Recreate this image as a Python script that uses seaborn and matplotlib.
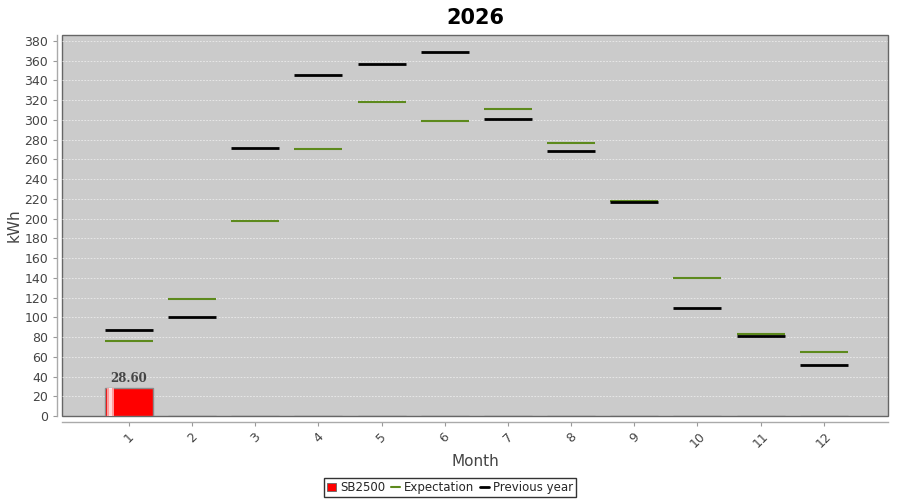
import numpy as np
import matplotlib
matplotlib.use("Agg")
import matplotlib.pyplot as plt
import seaborn as sns
from matplotlib.lines import Line2D
from matplotlib.patches import Patch

months = ["1", "2", "3", "4", "5", "6", "7", "8", "9", "10", "11", "12"]
sb2500 = [28.6, 0, 0, 0, 0, 0, 0, 0, 0, 0, 0, 0]
expectation = [76, 119, 198, 270, 318, 299, 311, 277, 218, 140, 83, 65]
previous_year = [87, 100, 272, 345, 357, 369, 301, 268, 217, 109, 81, 52]
y_ticks = list(range(0, 381, 20))

sns.set_theme(style="white")
plt.rcParams["font.family"] = ["DejaVu Sans"]

fig = plt.figure(figsize=(9, 5), dpi=100)
ax = fig.add_axes([0.069, 0.168, 0.918, 0.762])
ax.set_facecolor("#cbcbcb")

bar_w = 0.76
sns.barplot(x=months, y=sb2500, color="#ff0000", width=bar_w, saturation=1,
            edgecolor="#8a8a8a", linewidth=1, ax=ax, zorder=3)

# gradient highlight on the left side of the red bar
for p in ax.patches:
    if p.get_height() > 0:
        x0, w, h = p.get_x(), p.get_width(), p.get_height()
        ax.bar(x0 + w * 0.09, h, width=w * 0.06, color="white", alpha=0.85,
               align="edge", zorder=4, linewidth=0)
        ax.bar(x0 + w * 0.05, h, width=w * 0.04, color="#ff9a9a",
               align="edge", zorder=4, linewidth=0)
        ax.bar(x0 + w * 0.15, h, width=w * 0.04, color="#ff9a9a",
               align="edge", zorder=4, linewidth=0)
        ax.text(p.get_x() + w / 2, h + 3, f"{h:.2f}", ha="center", va="bottom",
                fontsize=8.5, fontweight="bold", family="DejaVu Serif",
                color="#444444", zorder=5)

pos = np.arange(len(months))
ax.hlines(expectation, pos - bar_w / 2, pos + bar_w / 2, color="#5d8a1d",
          linewidth=1.5, zorder=5)
ax.hlines(previous_year, pos - bar_w / 2, pos + bar_w / 2, color="black",
          linewidth=2, zorder=6)

ax.set_xlim(-1.055, 12.02)
ax.set_ylim(0, 386)
ax.set_yticks(y_ticks)
ax.yaxis.grid(True, color="#f2f2f2", linestyle=(0, (2.5, 2)), linewidth=0.5)
ax.set_axisbelow(True)

for s in ["top", "right"]:
    ax.spines[s].set_visible(False)
for s in ["left", "bottom"]:
    ax.spines[s].set_position(("outward", 4))
    ax.spines[s].set_color("#aaaaaa")
    ax.spines[s].set_linewidth(1)

# plot area frame
ax.patch.set_edgecolor("#666666")
ax.patch.set_linewidth(1)

ax.tick_params(axis="both", which="both", length=3, width=0.8, color="#999999",
               labelsize=9, labelcolor="#444444", left=True, bottom=True, pad=3)
plt.setp(ax.get_xticklabels(), rotation=45, ha="center", va="top")

ax.set_xlabel("Month", fontsize=11, color="#444444", labelpad=3)
ax.set_ylabel("kWh", fontsize=11, color="#444444")
ax.yaxis.set_label_coords(-0.049, 0.5)
ax.set_title("2026", fontsize=15, fontweight="bold", color="black", pad=8)

handles = [
    Patch(facecolor="#ff0000", edgecolor="#666666", linewidth=0.6),
    Line2D([0], [0], color="#5d8a1d", linewidth=1.5),
    Line2D([0], [0], color="black", linewidth=2),
]
leg = fig.legend(handles, ["SB2500", "Expectation", "Previous year"],
                 loc="center", bbox_to_anchor=(0.5, 0.025), ncol=3,
                 fontsize=8.5, frameon=True, fancybox=False, handlelength=0.8,
                 handletextpad=0.3, columnspacing=0.5, borderpad=0.25,
                 handleheight=0.7)
leg.get_frame().set_edgecolor("black")
leg.get_frame().set_linewidth(1)

fig.savefig("out.png", dpi=100)
